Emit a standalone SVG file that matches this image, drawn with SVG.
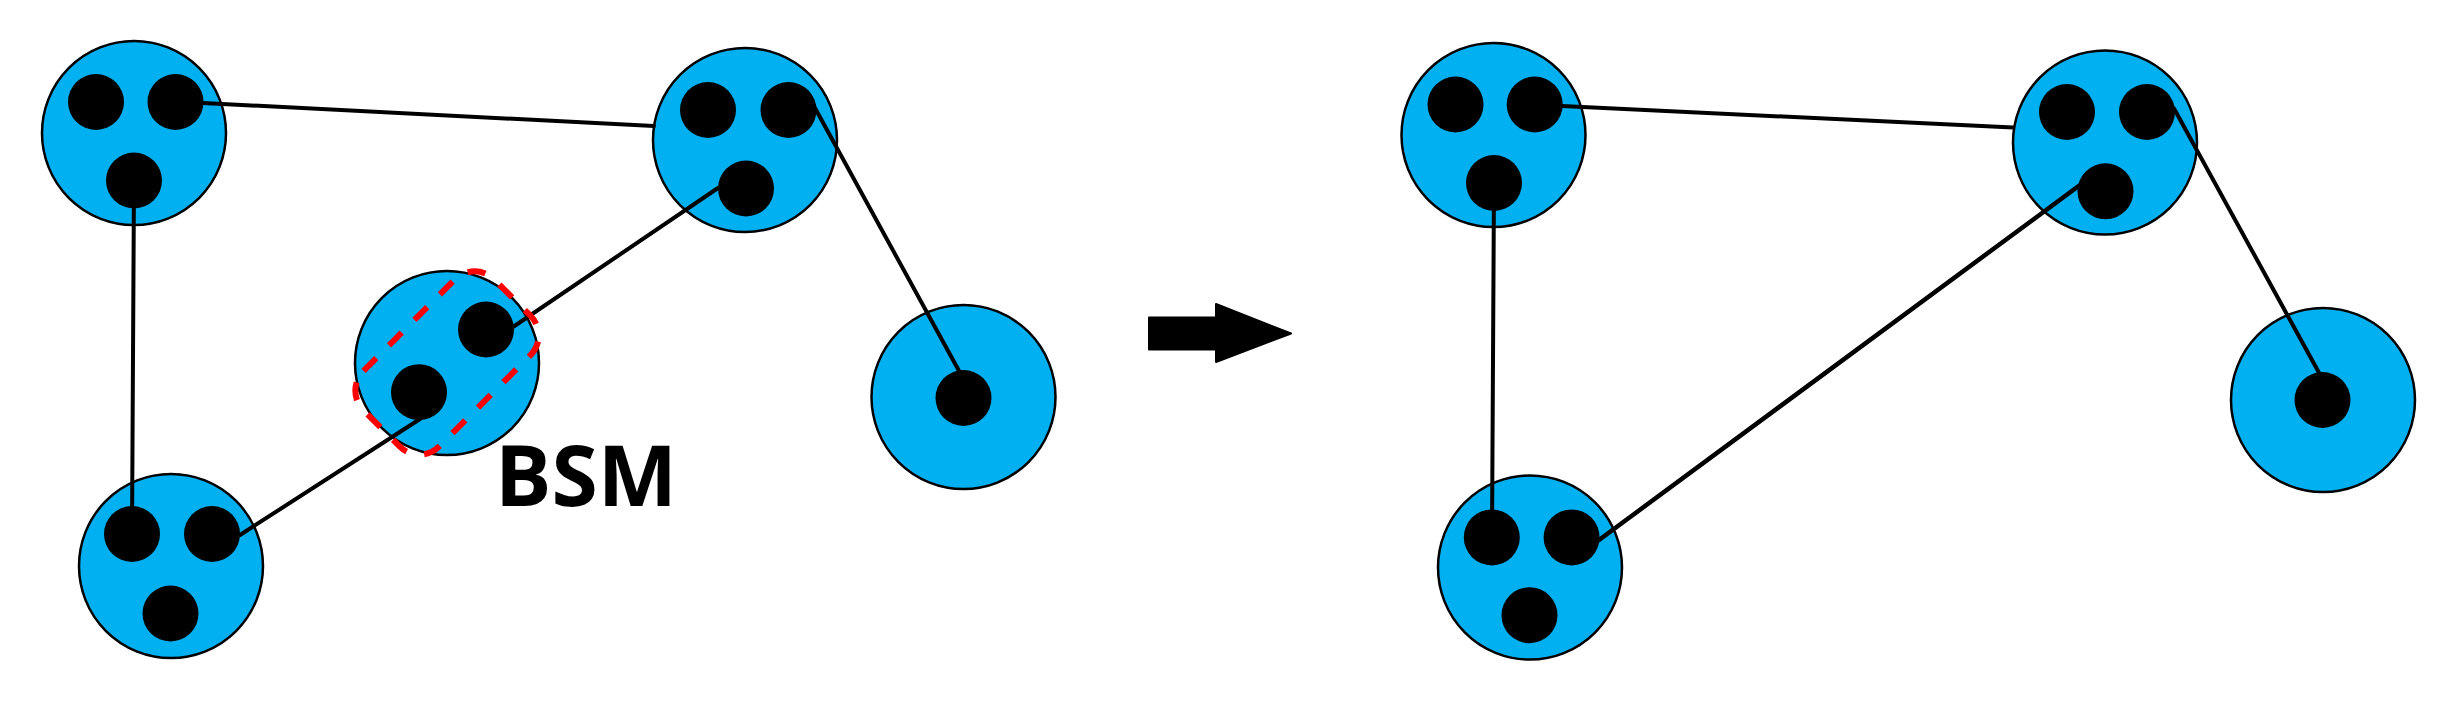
<svg xmlns="http://www.w3.org/2000/svg" width="2459" height="709" viewBox="0 0 2459 709">
<style>
.node{fill:#00B0F0;stroke:#000;stroke-width:2.5}
.dot{fill:#000}
.link{stroke:#000;stroke-width:4;fill:none;stroke-linecap:round}
.sel{fill:none;stroke:#FF0000;stroke-width:6;stroke-dasharray:18 18}
.lbl{font-family:"Open Sans","Liberation Sans",sans-serif;font-weight:bold;font-size:84px;fill:#000}
</style>
<rect width="2459" height="709" fill="#fff"/>
<!-- node circles -->
<g id="nodeA"><circle class="node" cx="134" cy="133" r="92"/></g>
<g id="nodeB"><circle class="node" cx="745" cy="140" r="92"/></g>
<g id="nodeC"><circle class="node" cx="963.5" cy="397" r="92"/></g>
<g id="nodeD"><circle class="node" cx="447" cy="363" r="92"/></g>
<g id="nodeE"><circle class="node" cx="171" cy="566" r="92"/></g>
<g id="nodeA2"><circle class="node" cx="1493.5" cy="135" r="92"/></g>
<g id="nodeB2"><circle class="node" cx="2105" cy="142.5" r="92"/></g>
<g id="nodeC2"><circle class="node" cx="2323" cy="400" r="92"/></g>
<g id="nodeE2"><circle class="node" cx="1530" cy="567.5" r="92"/></g>
<!-- connectors -->
<g id="connectors">
<line class="link" x1="203" y1="103" x2="654" y2="126"/>
<line class="link" x1="134" y1="180" x2="132" y2="534"/>
<line class="link" x1="240" y1="535" x2="420" y2="419"/>
<line class="link" x1="513" y1="327" x2="718" y2="188"/>
<line class="link" x1="815" y1="108" x2="964" y2="380"/>
<line class="link" x1="1562" y1="106" x2="2013" y2="127.5"/>
<line class="link" x1="1494" y1="183" x2="1492" y2="537"/>
<line class="link" x1="1599" y1="540" x2="2080" y2="185" style="stroke-width:4.5"/>
<line class="link" x1="2174" y1="108.5" x2="2323" y2="380"/>
<path id="bigArrow" d="M1149,317.5 L1216,317.5 L1216,304 L1291,333.5 L1216,362 L1216,349.5 L1149,349.5 Z" fill="#000" stroke="#000" stroke-width="2" stroke-linejoin="round"/>
</g>
<!-- dots -->
<g id="nodeA-dots"><circle class="dot" cx="96" cy="102" r="28"/><circle class="dot" cx="175.5" cy="102" r="28"/><circle class="dot" cx="134" cy="180.5" r="28"/></g>
<g id="nodeB-dots"><circle class="dot" cx="708" cy="110" r="28"/><circle class="dot" cx="788.5" cy="110" r="28"/><circle class="dot" cx="746" cy="188.5" r="28"/></g>
<g id="nodeC-dots"><circle class="dot" cx="963.5" cy="398" r="28"/></g>
<g id="nodeD-dots"><circle class="dot" cx="486" cy="329.5" r="28"/><circle class="dot" cx="419" cy="392.2" r="28"/></g>
<g id="nodeE-dots"><circle class="dot" cx="132" cy="534" r="28"/><circle class="dot" cx="212" cy="534" r="28"/><circle class="dot" cx="170.5" cy="613.5" r="28"/></g>
<g id="nodeA2-dots"><circle class="dot" cx="1455.5" cy="104.5" r="28"/><circle class="dot" cx="1534.7" cy="104.5" r="28"/><circle class="dot" cx="1494" cy="183" r="28"/></g>
<g id="nodeB2-dots"><circle class="dot" cx="2067" cy="112" r="28"/><circle class="dot" cx="2147" cy="112" r="28"/><circle class="dot" cx="2105.5" cy="191.3" r="28"/></g>
<g id="nodeC2-dots"><circle class="dot" cx="2322.5" cy="400" r="28"/></g>
<g id="nodeE2-dots"><circle class="dot" cx="1491.8" cy="537.4" r="28"/><circle class="dot" cx="1571.6" cy="537.4" r="28"/><circle class="dot" cx="1529.5" cy="615.2" r="28"/></g>
<!-- BSM selection -->
<g id="bsm">
<rect class="sel" x="354.5" y="309.5" width="185" height="107" rx="28" transform="rotate(-45 447 363)"/>
<text class="lbl" x="495" y="506">BSM</text>
</g>
</svg>
